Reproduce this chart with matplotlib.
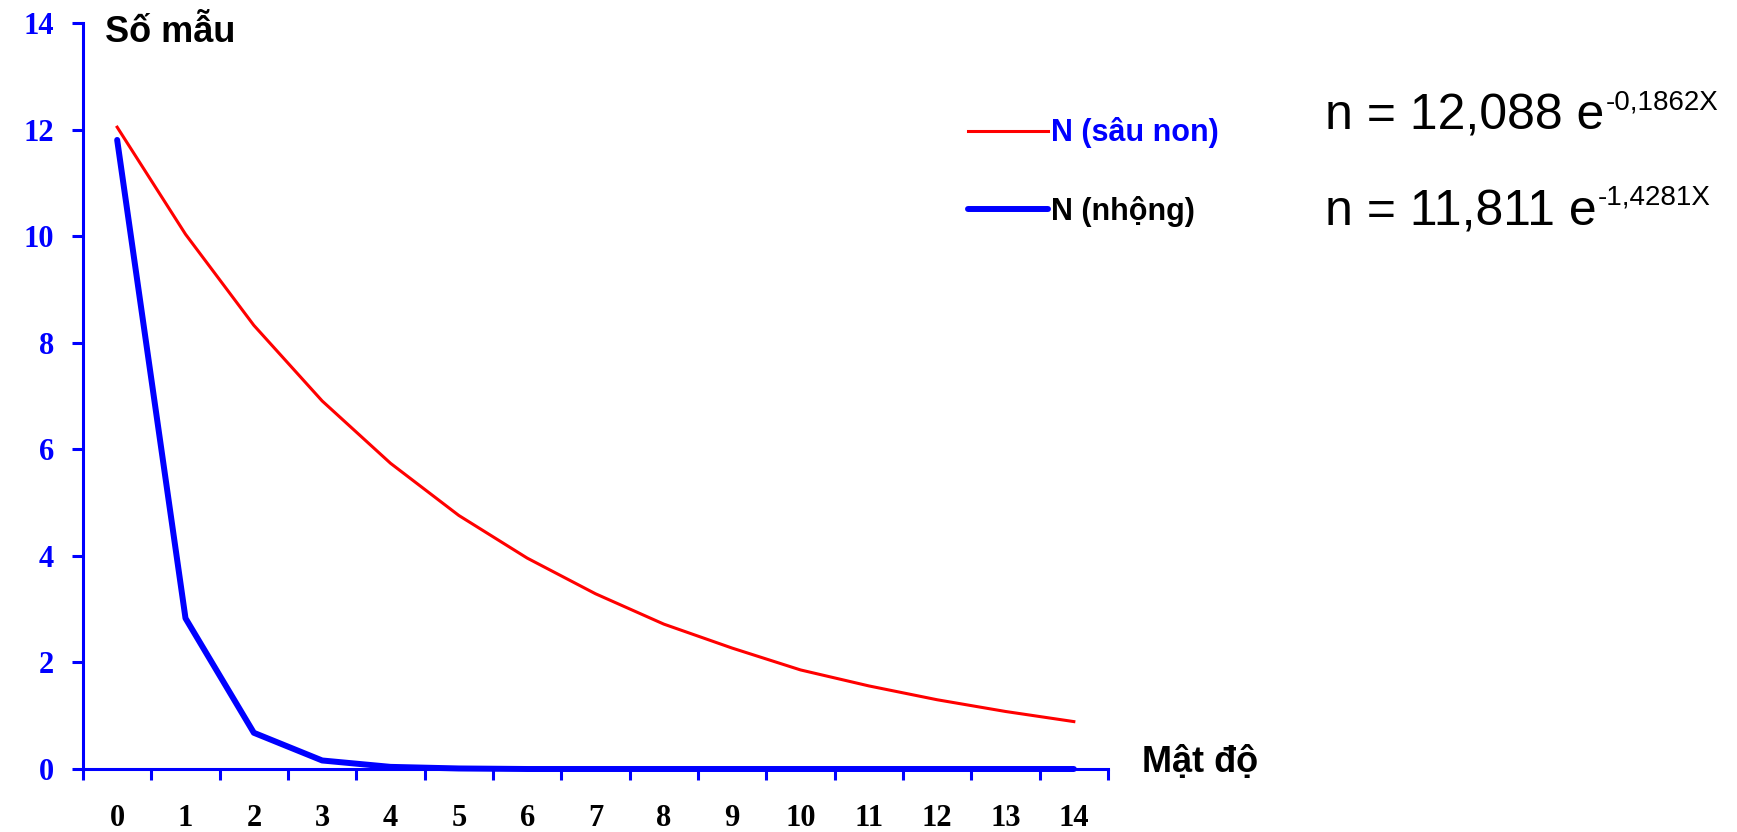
import numpy as np
import matplotlib
matplotlib.use("Agg")
import matplotlib.pyplot as plt

# du lieu doc tu hinh
mat_do = ["0", "1", "2", "3", "4", "5", "6", "7", "8", "9", "10", "11", "12", "13", "14"]
sau_non = [12.05, 10.04, 8.33, 6.91, 5.74, 4.76, 3.96, 3.29, 2.72, 2.27, 1.86, 1.56, 1.30, 1.08, 0.89]
nhong = [11.81, 2.83, 0.68, 0.16, 0.04, 0.01, 0.0, 0.0, 0.0, 0.0, 0.0, 0.0, 0.0, 0.0, 0.0]
y_ticks = [0, 2, 4, 6, 8, 10, 12, 14]

W, H = 1737, 832
fig = plt.figure(figsize=(W / 100, H / 100), dpi=100)
ax = fig.add_axes([83 / W, 1 - 769 / H, (1108 - 83) / W, (769 - 23.3) / H])

x = np.arange(len(mat_do))
ax.plot(x, sau_non, color="#ff0000", lw=2.2, label="N (sâu non)", zorder=3)
ax.plot(x, nhong, color="#0000ff", lw=4.3, label="N (nhộng)", zorder=4,
        clip_on=False, solid_capstyle="round")

ax.set_xlim(-0.5, len(mat_do) - 0.5)
ax.set_ylim(0, 14)

# truc
for s in ["top", "right"]:
    ax.spines[s].set_visible(False)
for s in ["left", "bottom"]:
    ax.spines[s].set_color("#0000ff")
    ax.spines[s].set_linewidth(2.2)

ax.set_yticks(y_ticks)
ax.set_yticklabels([str(v) for v in y_ticks])
ax.tick_params(axis="y", direction="out", length=8, width=2.2, color="#0000ff",
               pad=13, labelsize=22, labelcolor="#0000ff")

ax.set_xticks(x)
ax.set_xticklabels(mat_do)
ax.set_xticks(np.arange(-0.5, len(mat_do)), minor=True)
ax.tick_params(axis="x", which="major", length=0, pad=25, labelsize=22, labelcolor="black")
ax.tick_params(axis="x", which="minor", direction="out", length=8, width=2.2, color="#0000ff")

for lb in ax.get_xticklabels() + ax.get_yticklabels():
    lb.set_fontfamily("Liberation Serif")
    lb.set_fontweight("bold")

sans_b = {"family": "Liberation Sans", "weight": "bold"}
fig.text(105 / W, 1 - 42 / H, "Số mẫu", fontsize=26, va="baseline", **sans_b)
fig.text(1142 / W, 1 - 772 / H, "Mật độ", fontsize=26, va="baseline", **sans_b)

# chu giai
leg = ax.legend(loc="upper left", bbox_to_anchor=(953 / W, 1 - 102 / H),
                bbox_transform=fig.transFigure, frameon=False, borderpad=0,
                handlelength=2.6, handletextpad=0.12, labelspacing=1.55,
                prop={"family": "Liberation Sans", "weight": "bold", "size": 22})
leg.get_texts()[0].set_color("#0000ff")
leg.get_texts()[1].set_color("black")

# phuong trinh
eq = [("n = 12,088 e", "-0,1862X", 130), ("n = 11,811 e", "-1,4281X", 225)]
for main, sup, yb in eq:
    t = fig.text(1325 / W, 1 - yb / H, main, fontsize=36, va="baseline",
                 family="Liberation Sans")
    ax.annotate(sup, xy=(1.0, 1.0), xycoords=t, xytext=(1, 3), textcoords="offset points",
                ha="left", va="top", fontsize=20, family="Liberation Sans")

fig.savefig("out.png", dpi=100)
